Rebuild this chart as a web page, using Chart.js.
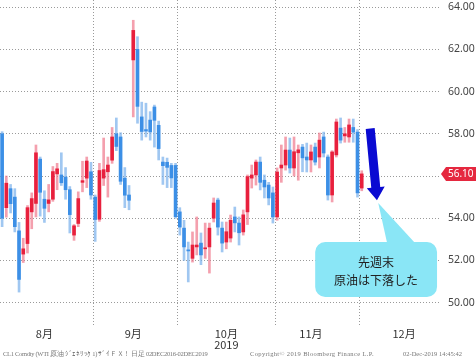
<!DOCTYPE html>
<html>
<head>
<meta charset="utf-8">
<script src="https://cdn.jsdelivr.net/npm/chart.js@4.4.0/dist/chart.umd.min.js"></script>
<style>
html, body { margin: 0; padding: 0; background: #fff; }
#wrap { position: relative; width: 476px; height: 361px; overflow: hidden; }
.foot { position: absolute; top: 350px; font: 6.5px "Liberation Serif", serif; color: #777; white-space: nowrap; }
.note { position: absolute; width: 122px; left: 315px; text-align: center; font: 12px "Noto Sans CJK JP", sans-serif; color: #222; line-height: 18px; }
</style>
</head>
<body>
<div id="wrap">
  <canvas id="chart" width="476" height="361"></canvas>
  <div class="note" style="top:253px">先週末<br>原油は下落した</div>
  <span class="foot" style="left:3px;letter-spacing:-0.3px">CL1 Comdty (WTI 原油 ｼﾞｪﾈﾘｯｸ 1) ｻﾞｲＦＸ！ 日足 02DEC2016-02DEC2019</span>
  <span class="foot" style="left:250px;letter-spacing:0.35px">Copyright© 2019 Bloomberg Finance L.P.</span>
  <span class="foot" style="left:403px">02-Dec-2019 14:45:42</span>
</div>
<script>
// 日足 (2019/8/1 - 2019/12/2)
var dates = ['8/1','8/2','8/5','8/6','8/7','8/8','8/9','8/12','8/13','8/14','8/15','8/16','8/19','8/20','8/21','8/22','8/23','8/26','8/27','8/28','8/29','8/30',
  '9/3','9/4','9/5','9/6','9/9','9/10','9/11','9/12','9/13','9/16','9/17','9/18','9/19','9/20','9/23','9/24','9/25','9/26','9/27','9/30',
  '10/1','10/2','10/3','10/4','10/7','10/8','10/9','10/10','10/11','10/14','10/15','10/16','10/17','10/18','10/21','10/22','10/23','10/24','10/25','10/28','10/29','10/30','10/31',
  '11/1','11/4','11/5','11/6','11/7','11/8','11/11','11/12','11/13','11/14','11/15','11/18','11/19','11/20','11/21','11/22','11/25','11/26','11/27','11/29',
  '12/2'];

var opens = [58.0,54.5,55.4,55.0,53.4,52.3,52.8,54.3,54.7,56.8,
  54.9,54.7,54.9,56.1,56.05,55.95,55.35,53.2,53.75,55.7,
  55.9,56.2,55.0,53.95,55.9,56.2,56.75,58.0,57.85,55.9,
  55.1,61.5,62.0,58.8,58.2,58.65,59.27,58.4,56.66,56.65,
  56.5,56.5,54.3,53.53,52.5,52.1,52.64,52.82,52.55,52.64,
  54.0,54.86,53.53,52.87,53.06,54.06,53.77,53.35,54.3,55.9,
  56.05,56.66,55.8,55.57,55.2,54.06,56.38,56.52,57.23,56.38,
  57.1,57.37,56.9,56.76,57.37,56.9,57.85,56.9,55.1,57.0,
  58.27,57.9,57.85,58.3,58.08,55.43];
var highs = [58.1,56.0,55.6,55.4,53.8,53.05,54.6,55.2,57.47,56.9,
  55.3,55.6,56.45,56.6,57.1,56.4,55.5,53.7,55.25,56.7,
  56.9,56.65,55.1,56.6,57.8,56.9,58.3,58.75,58.05,56.4,
  55.55,63.38,62.6,59.5,59.45,59.05,59.36,58.6,56.9,56.85,
  56.6,56.6,54.5,53.9,52.87,53.35,54.06,53.3,53.77,53.77,
  54.96,54.95,53.82,53.82,54.15,54.53,54.06,54.39,56.05,56.52,
  56.76,56.9,56.05,55.7,55.48,56.38,57.47,57.85,57.8,57.85,
  57.47,57.5,57.56,57.47,57.56,58.04,58.08,57.0,57.2,58.7,
  58.75,58.3,58.7,58.7,58.2,56.25];
var lows = [53.6,54.05,54.25,53.35,50.5,51.9,52.35,53.5,54.06,54.1,
  53.8,54.3,54.8,55.35,55.55,54.9,53.3,52.95,53.6,55.25,
  55.45,54.9,52.9,53.85,55.55,55.0,56.6,57.2,55.6,54.5,
  54.4,58.8,58.5,57.7,57.85,57.7,57.37,56.76,55.6,55.45,
  55.45,54.0,53.2,52.0,50.98,51.92,52.26,51.8,52.1,51.4,
  53.82,53.2,52.4,52.55,52.87,53.35,52.73,53.2,53.7,55.43,
  55.57,55.34,54.96,54.63,53.77,53.9,55.7,56.28,56.14,56.0,
  55.8,56.2,56.19,56.19,56.52,56.38,56.9,54.86,54.77,56.9,
  57.56,57.6,57.6,57.6,55.0,55.3];
var closes = [54.0,55.66,54.69,53.6,51.1,52.55,54.5,54.93,57.1,55.23,
  54.47,54.87,56.21,56.34,55.68,55.35,54.17,53.64,54.93,55.78,
  56.71,55.1,53.94,56.26,56.3,56.52,57.85,57.4,55.75,55.09,
  54.85,62.9,59.3,58.11,58.13,58.09,58.64,57.3,56.49,56.41,
  55.91,54.07,53.58,52.64,52.45,52.73,52.73,52.26,52.59,53.53,
  54.72,53.58,52.82,53.36,53.9,53.78,53.31,54.16,55.97,56.05,
  56.66,55.7,55.48,54.96,54.06,56.19,56.52,57.23,56.38,57.15,
  57.24,56.86,56.76,57.14,56.66,57.7,57.09,55.1,57.14,58.56,
  57.7,58.0,58.42,58.08,55.2,56.1];

var yTicks = [50, 52, 54, 56, 58, 60, 62, 64];
var monthNames = ['8月', '9月', ['10月', '2019'], '11月', '12月'];
var monthLabelSlot = [10, 31, 53, 73, 95];   // 月ラベルの位置
var monthStartSlot = [22, 42, 65, 85];       // 月の区切り線

// 12月の空き部分
var labels = dates.concat(new Array(104 - dates.length).fill(''));

var RED = '#e8203d', BLUE = '#3c8fe6';
var RED_W = 'rgba(240,120,140,0.7)', BLUE_W = 'rgba(120,175,235,0.7)';
function isUp(i) { return closes[i] >= opens[i]; }

var overlay = {
    id: 'overlay',
    afterDatasetsDraw: function(chart) {
        var ctx = chart.ctx, x = chart.scales.x, y = chart.scales.y;
        ctx.save();

        // 吹き出し
        var bx1 = x.getPixelForValue(74.0), bx2 = x.getPixelForValue(102.8);
        var by1 = y.getPixelForValue(52.87), by2 = y.getPixelForValue(50.27);
        ctx.fillStyle = '#8ae6f6';
        ctx.beginPath();
        ctx.roundRect(bx1, by1, bx2 - bx1, by2 - by1, 10);
        ctx.fill();
        ctx.beginPath();
        ctx.moveTo(x.getPixelForValue(88.9), y.getPixelForValue(54.72));
        ctx.lineTo(x.getPixelForValue(91.0), by1 + 1);
        ctx.lineTo(x.getPixelForValue(97.6), by1 + 1);
        ctx.closePath();
        ctx.fill();

        // 矢印
        var x0 = x.getPixelForValue(87), y0 = y.getPixelForValue(58.25);
        var x1 = x.getPixelForValue(88.6), y1 = y.getPixelForValue(54.85);
        var dx = x1 - x0, dy = y1 - y0, len = Math.sqrt(dx * dx + dy * dy);
        var ux = dx / len, uy = dy / len, nx = -uy, ny = ux;
        var sw = 4.5, hw = 9, hl = 13;
        var hx = x1 - ux * hl, hy = y1 - uy * hl;
        ctx.fillStyle = '#0a0ad2';
        ctx.beginPath();
        ctx.moveTo(x0 + nx * sw, y0 + ny * sw);
        ctx.lineTo(hx + nx * sw, hy + ny * sw);
        ctx.lineTo(hx + nx * hw, hy + ny * hw);
        ctx.lineTo(x1, y1);
        ctx.lineTo(hx - nx * hw, hy - ny * hw);
        ctx.lineTo(hx - nx * sw, hy - ny * sw);
        ctx.lineTo(x0 - nx * sw, y0 - ny * sw);
        ctx.closePath();
        ctx.fill();

        // 最新値タグ
        var last = closes[closes.length - 1];
        var yc = y.getPixelForValue(last);
        var r = chart.chartArea.right;
        ctx.fillStyle = '#e5283f';
        ctx.beginPath();
        ctx.moveTo(r + 1, yc);
        ctx.lineTo(r + 6, yc - 7);
        ctx.lineTo(chart.width, yc - 7);
        ctx.lineTo(chart.width, yc + 7);
        ctx.lineTo(r + 6, yc + 7);
        ctx.closePath();
        ctx.fill();
        ctx.fillStyle = '#fff';
        ctx.font = '10px "Noto Sans"';
        ctx.textBaseline = 'middle';
        ctx.fillText(last.toFixed(2), r + 8, yc + 0.5);
        ctx.restore();
    }
};

var candleChart = new Chart(document.getElementById('chart'), {
    type: 'bar',
    data: {
        labels: labels,
        datasets: [{
            label: 'wick',
            data: lows.map(function(l, i) { return [l, highs[i]]; }),
            backgroundColor: function(c) { return isUp(c.dataIndex) ? RED_W : BLUE_W; },
            barThickness: 2,
            grouped: false,
            order: 2
        }, {
            label: 'body',
            data: opens.map(function(o, i) { return [o, closes[i]]; }),
            backgroundColor: function(c) { return isUp(c.dataIndex) ? RED : BLUE; },
            barThickness: 3,
            minBarLength: 1,
            grouped: false,
            order: 1
        }]
    },
    options: {
        responsive: false,
        animation: false,
        layout: { padding: 0 },
        plugins: { legend: { display: false }, tooltip: { enabled: false } },
        scales: {
            x: {
                type: 'category',
                offset: true,
                grid: {
                    offset: true,
                    drawTicks: false,
                    color: function(c) { return monthStartSlot.indexOf(c.index) >= 0 ? '#9a9a9a' : 'rgba(0,0,0,0)'; }
                },
                border: { display: false, dash: [1, 2] },
                ticks: {
                    autoSkip: false,
                    maxRotation: 0,
                    minRotation: 0,
                    padding: 3,
                    color: '#333',
                    font: { family: '"Noto Sans CJK JP"', size: 11, lineHeight: 1.0 },
                    callback: function(v, i) {
                        var k = monthLabelSlot.indexOf(i);
                        return k >= 0 ? monthNames[k] : '';
                    }
                },
                afterFit: function(s) { s.height = 36; s.paddingLeft = 0; s.paddingRight = 0; }
            },
            y: {
                position: 'right',
                min: 48.94,
                max: 64.34,
                afterBuildTicks: function(s) { s.ticks = yTicks.map(function(v) { return { value: v }; }); },
                grid: { color: '#9a9a9a', drawTicks: false },
                border: { display: false, dash: [1, 2] },
                ticks: {
                    padding: 8,
                    color: '#444',
                    font: { family: '"Noto Sans"', size: 10.5 },
                    callback: function(v) { return Number(v).toFixed(2); }
                },
                afterFit: function(s) { s.width = 36; s.paddingTop = 0; s.paddingBottom = 0; }
            }
        }
    },
    plugins: [overlay]
});
</script>
</body>
</html>
